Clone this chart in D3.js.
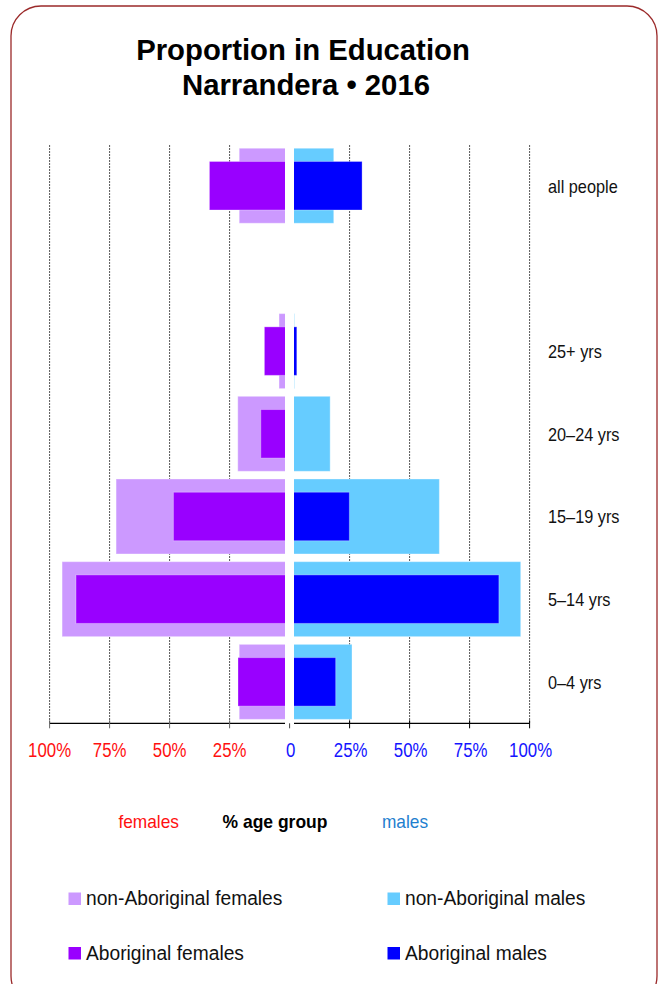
<!DOCTYPE html>
<html>
<head>
<meta charset="utf-8">
<script src="https://cdn.jsdelivr.net/npm/d3@7"></script>
<style>
  body { margin: 0; background: #fff; }
  svg text { font-family: "Liberation Sans", Arial, sans-serif; }
</style>
</head>
<body>
<div id="chart"></div>
<script>
// age groups, top to bottom ("" is the empty slot under "all people")
let ageGroups = ["all people", "", "25+ yrs", "20–24 yrs", "15–19 yrs", "5–14 yrs", "0–4 yrs"];

// % of each age group in education
let nonAbFemales = [21, null, 4.4, 21.6, 72.3, 94.8, 21];
let abFemales    = [33.4, null, 10.5, 12, 48.4, 89, 21.5];
let nonAbMales   = [18.4, null, 2, 16.9, 62.4, 96.3, 26];
let abMales      = [30.2, null, 3, 0, 24.9, 87.2, 19.2];

let tickValues = [100, 75, 50, 25];
let femaleTickLabels = ["100%", "75%", "50%", "25%"];
let maleTickLabels = ["100%", "75%", "50%", "25%"];

let legendItems = [
	{label: "non-Aboriginal females", color: "#CC99FF"},
	{label: "non-Aboriginal males", color: "#66CCFF"},
	{label: "Aboriginal females", color: "#9900FF"},
	{label: "Aboriginal males", color: "#0000FF"}
];

let width = 661, height = 984;
let center = 289.6;

let svg = d3.select("#chart").append("svg")
	.attr("width", width)
	.attr("height", height);

// frame
svg.append("rect")
	.attr("x", 11).attr("y", 6)
	.attr("width", 646).attr("height", 1000)
	.attr("rx", 30).attr("ry", 30)
	.attr("fill", "none")
	.attr("stroke", "#9b2a2a")
	.attr("stroke-width", 1.3);

// squeeze text a bit, the original font is narrower than Arial
function squish(sel, k) {
	sel.each(function() {
		let len = this.getComputedTextLength();
		d3.select(this).attr("textLength", len * k).attr("lengthAdjust", "spacingAndGlyphs");
	});
}

// title
svg.append("text")
	.attr("x", 303).attr("y", 60)
	.attr("text-anchor", "middle")
	.attr("font-size", 29.3).attr("font-weight", "bold")
	.text("Proportion in Education");
svg.append("text")
	.attr("x", 306).attr("y", 95)
	.attr("text-anchor", "middle")
	.attr("font-size", 29.3).attr("font-weight", "bold")
	.text("Narrandera • 2016");

// scales
let y = d3.scaleBand()
	.domain(ageGroups)
	.range([144.4, 723.2])
	.paddingInner(0.093)
	.paddingOuter(0.0465);

let xF = d3.scaleLinear().domain([0, 100]).range([center, center - 240]);
let xM = d3.scaleLinear().domain([0, 100]).range([center, center + 240]);

let innerH = 48.5;

// gridlines
let grid = svg.append("g");
tickValues.forEach(v => {
	[xF(v), xM(v)].forEach(gx => {
		grid.append("line")
			.attr("x1", gx).attr("x2", gx)
			.attr("y1", 145).attr("y2", 723)
			.attr("stroke", "#555")
			.attr("stroke-width", 1)
			.attr("stroke-dasharray", "2,1");
	});
});

let rows = ageGroups.map((g, i) => ({
	group: g, nf: nonAbFemales[i], af: abFemales[i], nm: nonAbMales[i], am: abMales[i]
})).filter(d => d.nf !== null);

let bars = svg.append("g");

// non-Aboriginal (wide bars)
bars.selectAll(".nf").data(rows).enter().append("rect")
	.attr("x", d => xF(d.nf)).attr("y", d => y(d.group))
	.attr("width", d => xF(0) - xF(d.nf)).attr("height", y.bandwidth())
	.attr("fill", "#CC99FF")
	.attr("stroke", "#fff").attr("stroke-opacity", 0.35);
bars.selectAll(".nm").data(rows).enter().append("rect")
	.attr("x", xM(0)).attr("y", d => y(d.group))
	.attr("width", d => xM(d.nm) - xM(0)).attr("height", y.bandwidth())
	.attr("fill", "#66CCFF")
	.attr("stroke", "#fff").attr("stroke-opacity", 0.35);

// Aboriginal (narrow bars)
bars.selectAll(".af").data(rows).enter().append("rect")
	.attr("x", d => xF(d.af)).attr("y", d => y(d.group) + (y.bandwidth() - innerH) / 2)
	.attr("width", d => xF(0) - xF(d.af)).attr("height", innerH)
	.attr("fill", "#9900FF")
	.attr("stroke", "#fff").attr("stroke-opacity", 0.3);
bars.selectAll(".am").data(rows.filter(d => d.am > 0)).enter().append("rect")
	.attr("x", xM(0)).attr("y", d => y(d.group) + (y.bandwidth() - innerH) / 2)
	.attr("width", d => xM(d.am) - xM(0)).attr("height", innerH)
	.attr("fill", "#0000FF")
	.attr("stroke", "#fff").attr("stroke-opacity", 0.3);

// axis
let axisY = 723.3;
svg.append("line")
	.attr("x1", xF(100)).attr("x2", xM(100))
	.attr("y1", axisY).attr("y2", axisY)
	.attr("stroke", "#000").attr("stroke-width", 1.2);
tickValues.forEach(v => {
	svg.append("line").attr("x1", xF(v)).attr("x2", xF(v))
		.attr("y1", axisY - 3).attr("y2", axisY + 5).attr("stroke", "#666");
	svg.append("line").attr("x1", xM(v)).attr("x2", xM(v))
		.attr("y1", axisY - 3).attr("y2", axisY + 5).attr("stroke", "#000");
});

// white strip down the middle
svg.append("rect")
	.attr("x", center - 4.6).attr("y", 140)
	.attr("width", 9).attr("height", 590)
	.attr("fill", "#fff");
svg.append("line").attr("x1", center).attr("x2", center)
	.attr("y1", axisY).attr("y2", axisY + 5).attr("stroke", "#444");

// tick labels
let tickY = 756.5;
svg.selectAll(".tf").data(tickValues).enter().append("text")
	.attr("x", d => xF(d)).attr("y", tickY)
	.attr("text-anchor", "middle").attr("font-size", 20)
	.attr("fill", "#FF1010")
	.text((d, i) => femaleTickLabels[i])
	.call(squish, 0.84);
svg.selectAll(".tm").data(tickValues).enter().append("text")
	.attr("x", d => xM(d) + 1).attr("y", tickY)
	.attr("text-anchor", "middle").attr("font-size", 20)
	.attr("fill", "#1414FF")
	.text((d, i) => maleTickLabels[i])
	.call(squish, 0.84);
svg.append("text")
	.attr("x", center + 1).attr("y", tickY)
	.attr("text-anchor", "middle").attr("font-size", 20)
	.attr("fill", "#1414FF")
	.text("0")
	.call(squish, 0.84);

// age group labels
svg.selectAll(".cat").data(rows).enter().append("text")
	.attr("x", 548).attr("y", d => y(d.group) + y.bandwidth() / 2 + 7)
	.attr("font-size", 18.5).attr("fill", "#111")
	.text(d => d.group)
	.call(squish, 0.88);

// axis captions
svg.append("text").attr("x", 148.7).attr("y", 827.5)
	.attr("text-anchor", "middle").attr("font-size", 19).attr("fill", "#FF1010")
	.text("females").call(squish, 0.91);
svg.append("text").attr("x", 275).attr("y", 827.5)
	.attr("text-anchor", "middle").attr("font-size", 19).attr("font-weight", "bold").attr("fill", "#000")
	.text("% age group").call(squish, 0.92);
svg.append("text").attr("x", 405).attr("y", 827.5)
	.attr("text-anchor", "middle").attr("font-size", 19).attr("fill", "#1f7fcf")
	.text("males").call(squish, 0.91);

// legend
let legend = svg.append("g");
legendItems.forEach((d, i) => {
	let lx = (i % 2 === 0) ? 68.5 : 387.5;
	let ly = (i < 2) ? 892.5 : 947;
	legend.append("rect")
		.attr("x", lx).attr("y", ly)
		.attr("width", 12.5).attr("height", 12.5)
		.attr("fill", d.color);
	legend.append("text")
		.attr("x", lx + 17.5).attr("y", ly + 12.5)
		.attr("font-size", 20).attr("fill", "#111")
		.text(d.label)
		.call(squish, 0.96);
});
</script>
</body>
</html>
